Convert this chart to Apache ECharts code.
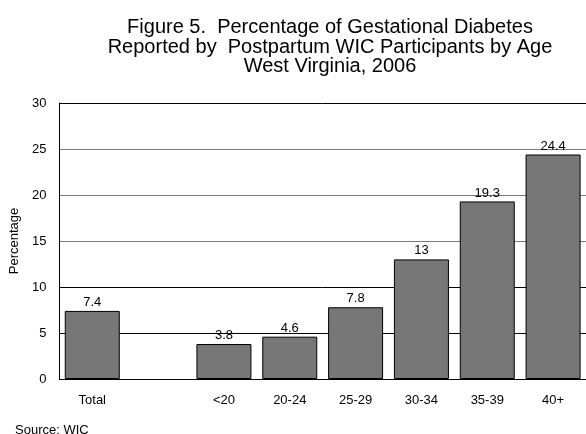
<!DOCTYPE html>
<html>
<head>
<meta charset="utf-8">
<script src="https://cdn.jsdelivr.net/npm/echarts@6/dist/echarts.min.js"></script>
<style>
  html, body { margin: 0; padding: 0; background: #fff; }
  #chart { width: 586px; height: 434px; }
</style>
</head>
<body>
<div id="chart"></div>
<script>
// Age groups (blank slot separates the total from the age bands)
const categories = ['Total', '', '<20', '20-24', '25-29', '30-34', '35-39', '40+'];
const percentages = [7.4, null, 3.8, 4.6, 7.8, 13, 19.3, 24.4];
const yTicks = [0, 5, 10, 15, 20, 25, 30];

const font = '"Liberation Sans", Arial, sans-serif';
const chart = echarts.init(document.getElementById('chart'), null, { renderer: 'canvas' });

chart.setOption({
  animation: false,
  backgroundColor: '#ffffff',
  title: {
    text: 'Figure 5.  Percentage of Gestational Diabetes\nReported by  Postpartum WIC Participants by Age\nWest Virginia, 2006',
    left: 325,
    top: 13,
    textAlign: 'center',
    textStyle: { fontFamily: font, fontSize: 20, fontWeight: 'normal', color: '#000', lineHeight: 19.5 }
  },
  graphic: [{
    type: 'text',
    left: 15,
    top: 424,
    style: { text: 'Source: WIC', font: '13px ' + font, fill: '#000' }
  }],
  grid: { left: 58, top: 103, width: 531, height: 276, containLabel: false },
  xAxis: {
    type: 'category',
    data: categories,
    axisLine: { lineStyle: { color: '#000', width: 1 } },
    axisTick: { show: false },
    axisLabel: { color: '#000', fontFamily: font, fontSize: 13, margin: 15 }
  },
  yAxis: {
    type: 'value',
    min: yTicks[0],
    max: yTicks[yTicks.length - 1],
    interval: 5,
    name: 'Percentage',
    nameLocation: 'middle',
    nameGap: 35,
    nameTextStyle: { color: '#000', fontFamily: font, fontSize: 13 },
    axisLine: { show: true, lineStyle: { color: '#000', width: 1 } },
    axisTick: { show: false },
    axisLabel: { color: '#000', fontFamily: font, fontSize: 13, margin: 13 },
    splitLine: {
      show: true,
      lineStyle: { color: ['#000', '#000', '#000', '#7a7a7a', '#7a7a7a', '#7a7a7a', '#000'], width: 1 }
    }
  },
  series: [{
    type: 'bar',
    data: percentages,
    barWidth: 55,
    itemStyle: { color: '#777777', borderColor: '#000', borderWidth: 1 },
    label: {
      show: true,
      position: 'top',
      distance: 2,
      color: '#000',
      fontFamily: font,
      fontSize: 13
    }
  }]
});
</script>
</body>
</html>
